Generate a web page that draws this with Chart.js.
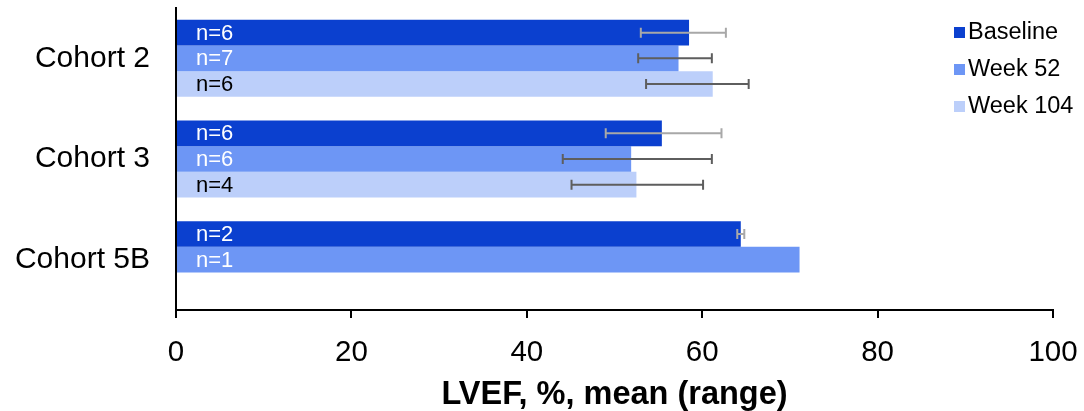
<!DOCTYPE html>
<html>
<head>
<meta charset="utf-8">
<script src="https://cdn.jsdelivr.net/npm/chart.js@4"></script>
<style>
  body { margin: 0; background: #fff; }
  #wrap { width: 1084px; height: 411px; }
</style>
</head>
<body>
<div id="wrap"><canvas id="lvefChart"></canvas></div>
<script>
// values
var cohorts = ['Cohort 2', 'Cohort 3', 'Cohort 5B'];
var seriesNames = ['Baseline', 'Week 52', 'Week 104'];

var baseline = [58.5, 55.4, 64.4];
var week52 = [57.3, 51.9, 71.1];
var week104 = [61.2, 52.5, null];

var baselineLow = [53.0, 49.0, 64.0];
var baselineHigh = [62.7, 62.2, 64.8];
var week52Low = [52.7, 44.1, null];
var week52High = [61.1, 61.1, null];
var week104Low = [53.6, 45.1, null];
var week104High = [65.3, 60.1, null];

var baselineN = [6, 6, 2];
var week52N = [7, 6, 1];
var week104N = [6, 4, null];

var xTicks = [0, 20, 40, 60, 80, 100];

var colors = ['#0b40cf', '#6d96f5', '#bccffa'];
var errColors = ['#a8a8a8', '#5e5e5e', '#5e5e5e'];
var nColors = ['#ffffff', '#ffffff', '#000000'];

var lows = [baselineLow, week52Low, week104Low];
var highs = [baselineHigh, week52High, week104High];
var counts = [baselineN, week52N, week104N];

var fontFam = '"Liberation Sans", Arial, sans-serif';

// error bars, n= labels and legend
var extras = {
  id: 'extras',
  afterDatasetsDraw: function(chart) {
    var ctx = chart.ctx;
    var xs = chart.scales.x;
    var area = chart.chartArea;
    ctx.save();
    chart.data.datasets.forEach(function(ds, i) {
      var meta = chart.getDatasetMeta(i);
      meta.data.forEach(function(bar, j) {
        if (ds.data[j] == null) return;
        if (counts[i][j] != null) {
          ctx.fillStyle = nColors[i];
          ctx.font = '22px ' + fontFam;
          ctx.textAlign = 'left';
          ctx.textBaseline = 'middle';
          ctx.fillText('n=' + counts[i][j], xs.getPixelForValue(0) + 20, bar.y + 1);
        }
        if (lows[i][j] == null) return;
        var x1 = xs.getPixelForValue(lows[i][j]);
        var x2 = xs.getPixelForValue(highs[i][j]);
        ctx.strokeStyle = errColors[i];
        ctx.lineWidth = 2;
        ctx.beginPath();
        ctx.moveTo(x1, bar.y); ctx.lineTo(x2, bar.y);
        ctx.moveTo(x1, bar.y - 5); ctx.lineTo(x1, bar.y + 5);
        ctx.moveTo(x2, bar.y - 5); ctx.lineTo(x2, bar.y + 5);
        ctx.stroke();
      });
    });

    // legend
    ctx.font = '23.5px ' + fontFam;
    ctx.textAlign = 'left';
    ctx.textBaseline = 'middle';
    seriesNames.forEach(function(name, i) {
      var y = area.top + 24 + i * 37;
      var x = area.right - 99;
      ctx.fillStyle = colors[i];
      ctx.fillRect(x, y - 5, 11, 11);
      ctx.fillStyle = '#000';
      ctx.fillText(name, x + 14, y + 1);
    });
    ctx.restore();
  }
};

var chart1 = new Chart(document.getElementById('lvefChart').getContext('2d'), {
  type: 'bar',
  data: {
    labels: cohorts,
    datasets: [
      { label: seriesNames[0], data: baseline, backgroundColor: colors[0] },
      { label: seriesNames[1], data: week52, backgroundColor: colors[1] },
      { label: seriesNames[2], data: week104, backgroundColor: colors[2] }
    ]
  },
  options: {
    indexAxis: 'y',
    responsive: true,
    maintainAspectRatio: false,
    animation: false,
    categoryPercentage: 0.765,
    barPercentage: 1,
    layout: { padding: { left: 0, right: 31, top: 8, bottom: 0 } },
    plugins: {
      legend: { display: false },
      tooltip: { enabled: false }
    },
    scales: {
      x: {
        min: 0,
        max: 100,
        afterBuildTicks: function(scale) {
          scale.ticks = xTicks.map(function(v) { return { value: v }; });
        },
        afterFit: function(scale) {
          scale.height = 101;
          scale.paddingLeft = 0;
          scale.paddingRight = 0;
        },
        grid: { drawOnChartArea: false, drawTicks: true, tickLength: 8, color: '#000', lineWidth: 2 },
        border: { display: true, color: '#000', width: 2 },
        ticks: {
          color: '#000',
          padding: 17,
          font: { family: fontFam, size: 29.5 }
        },
        title: {
          display: true,
          text: 'LVEF, %, mean (range)',
          color: '#000',
          padding: { top: 0, bottom: 0 },
          font: { family: fontFam, size: 32.5, weight: 'bold', lineHeight: 1 }
        }
      },
      y: {
        afterFit: function(scale) {
          scale.width = 176;
          scale.paddingTop = 0;
          scale.paddingBottom = 0;
        },
        grid: { display: false, drawTicks: false },
        border: { display: true, color: '#000', width: 2 },
        ticks: {
          color: '#000',
          padding: 26,
          font: { family: fontFam, size: 30 }
        }
      }
    }
  },
  plugins: [extras]
});
</script>
</body>
</html>
